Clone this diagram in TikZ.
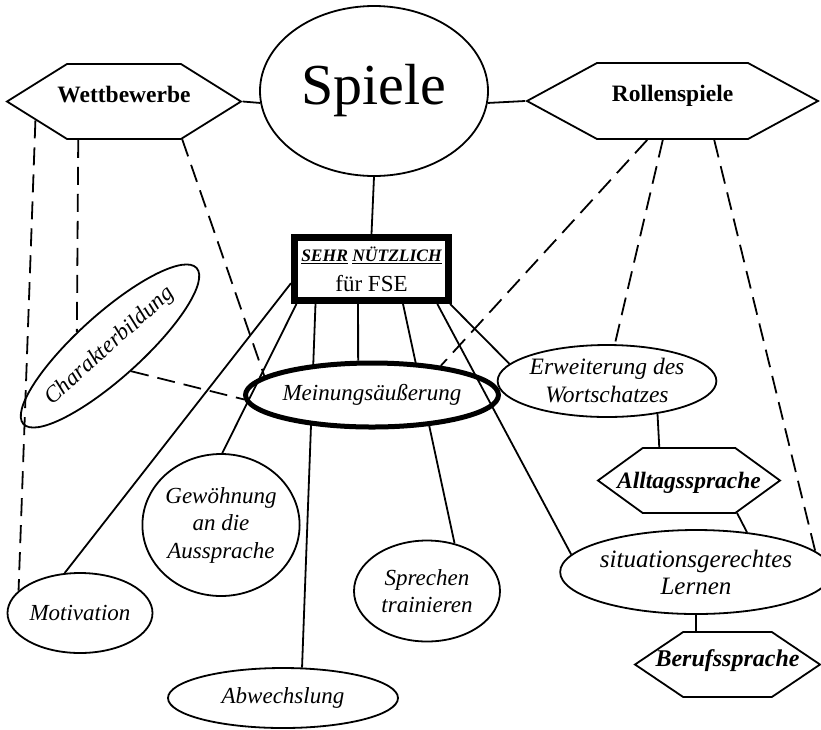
\documentclass[tikz,border=0pt]{standalone}
\usepackage{fontspec}
\setmainfont{Liberation Serif}
\usepackage{tikz}
\usetikzlibrary{shapes.geometric,shapes.symbols}

\begin{document}
\begin{tikzpicture}[x=1pt, y=-1pt, line width=1.8pt,
  every node/.style={inner sep=0pt, fill=white},
  blob/.style={draw, ellipse, align=center, font=\fontsize{23}{27.5}\selectfont\itshape},
  hexa/.style={draw, shape=signal, signal to=west and east, text height=16pt,
    font=\fontsize{23.5}{28}\selectfont\bfseries,
    execute at begin node={\hbox to 0pt\bgroup\hss},
    execute at end node={\hss\egroup}},
  dashline/.style={dash pattern=on 18pt off 9pt}]
  \useasboundingbox (0,0) rectangle (821,729);

  % Top row
  \node[draw, ellipse, minimum width=228, minimum height=170,
    font=\fontsize{58}{60}\selectfont] (spiele) at (374,91) {Spiele};
  \node[hexa, minimum width=234, minimum height=75, signal pointer angle=64,
    text depth=15pt] (wett) at (124,101.5) {Wettbewerbe};
  \node[hexa, minimum width=291, minimum height=76, signal pointer angle=57,
    text depth=15pt] (rollen) at (672.5,101) {Rollenspiele};

  % Box in the middle
  \node[draw, line width=7pt, minimum width=154, minimum height=63, align=center,
    font=\fontsize{23}{30}\selectfont] (box) at (371.5,269)
    {{\fontsize{17.5}{20}\selectfont\bfseries\itshape\underline{SEHR} \underline{NÜTZLICH}}\\für FSE};

  % Ellipses below
  \node[blob, rotate=42, minimum width=194, minimum height=64] (chr) at (110,346) {Charakterbildung};
  \node[blob, minimum width=145, minimum height=80] (mot) at (80,613) {Motivation};
  \node[blob, minimum width=147, minimum height=142] (gew) at (221,525) {Gewöhnung\\an die\\Aussprache};
  \node[blob, minimum width=230, minimum height=60] (abw) at (283,698) {Abwechslung};
  \node[blob, minimum width=146, minimum height=101] (spr) at (427,591) {Sprechen\\trainieren};
  \node[blob, minimum width=210, minimum height=72,
    font=\fontsize{23.5}{28}\selectfont\itshape] (erw) at (607,381) {Erweiterung des\\Wortschatzes};
  \node[blob, minimum width=244, minimum height=84,
    font=\fontsize{25}{27}\selectfont\itshape] (sit) at (696,572) {situationsgerechtes\\Lernen};
  \node[hexa, minimum width=182, minimum height=65, signal pointer angle=72,
    text depth=0pt, font=\fontsize{23.5}{28}\selectfont\bfseries\itshape] (alltag) at (689,480.5) {Alltagssprache};
  \node[hexa, minimum width=185, minimum height=65, signal pointer angle=68,
    text depth=12pt, font=\fontsize{24}{28}\selectfont\bfseries\itshape] (beruf) at (727.5,664.5) {Berufssprache};

  % Lines running behind Meinungsaeusserung
  \draw (box.212) -- (abw.58);
  \draw (box.-48) -- (spr.60);

  \node[blob, line width=5pt, minimum width=214, minimum height=64] (mein) at (372,395) {Meinungsäußerung};

  % Solid lines
  \draw (wett.east) -- (spiele.186);
  \draw (rollen.west) -- (spiele.-6);
  \draw (spiele.south) -- (box.north);
  \draw (box.190) -- (mot.111);
  \draw (box.205) -- (gew.89);
  \draw (box.249) -- (mein.112);
  \draw (box.-28) -- (sit.172);
  \draw (box.-24) -- (erw.170);
  \draw (erw.-33) -- (alltag.132);
  \draw (alltag.-34) -- (sit.38);
  \draw (sit.south) -- (sit.south |- beruf.north);

  % Dashed lines
  \draw[dashline] (wett.192) -- (mot.160);
  \draw[dashline] (wett.220) -- (chr.115);
  \draw[dashline] (wett.-33) -- (mein.170);
  \draw[dashline] (chr.-92) -- (mein.182);
  \draw[dashline] (rollen.-123) -- (mein.23);
  \draw[dashline] (rollen.-104) -- (erw.78);
  \draw[dashline] (rollen.-43) -- (sit.10);
\end{tikzpicture}
\end{document}
